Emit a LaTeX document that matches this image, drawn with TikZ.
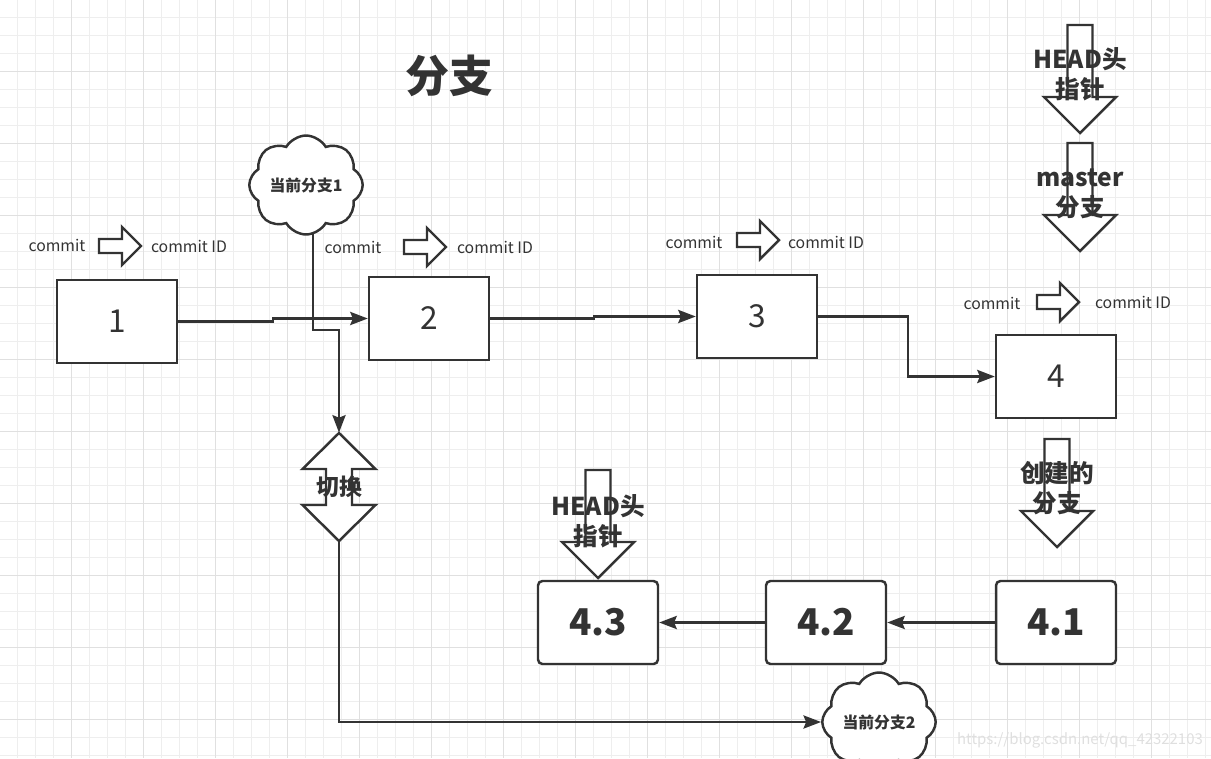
\documentclass[tikz,border=0pt]{standalone}
\usepackage{fontspec}
\setmainfont{Noto Sans CJK SC}
\usepackage{tikz}
\usetikzlibrary{positioning,shapes.symbols,arrows.meta}

\definecolor{inkgray}{HTML}{333333}
\definecolor{gridminor}{HTML}{EEEEEE}
\definecolor{gridmajor}{HTML}{E0E0E0}

\tikzset{
  commitbox/.style={draw=inkgray, line width=1.4pt, fill=white, minimum width=2.4cm, minimum height=1.66cm, inner sep=0pt, text=inkgray, font=\fontsize{18}{20}\selectfont},
  subbox/.style={commitbox, rounded corners=2.5pt, font=\bfseries\fontsize{21}{24}\selectfont},
  conn/.style={draw=inkgray, line width=1.3pt, -{Stealth[length=10pt,width=7.5pt,inset=1.5pt]}},
  blockline/.style={draw=inkgray, line width=1.4pt, fill=white, line join=miter},
  bubble/.style={cloud, cloud puffs=8, cloud puff arc=120, aspect=1.25, draw=inkgray, line width=1.4pt, fill=white, minimum width=2.15cm, minimum height=1.72cm, inner sep=0pt, text=inkgray, font=\bfseries\fontsize{9}{11}\selectfont},
  smalltxt/.style={text=inkgray, inner sep=0pt, font=\fontsize{9}{11}\selectfont},
  pointer/.style={text=inkgray, inner sep=0pt, align=center, font=\bfseries\fontsize{14}{17}\selectfont},
  rightblk/.pic={\draw[blockline] (0,-7) -- (23,-7) -- (23,-19) -- (42,0) -- (23,19) -- (23,7) -- (0,7) -- cycle;},
  downblk/.pic={\draw[blockline] (-12.5,0) -- (12.5,0) -- (12.5,72) -- (36,72) -- (0,108) -- (-36,72) -- (-12.5,72) -- cycle;},
  updownblk/.pic={\draw[blockline] (0,-54) -- (36.5,-18) -- (13,-18) -- (13,18) -- (36.5,18) -- (0,54) -- (-36.5,18) -- (-13,18) -- (-13,-18) -- (-36.5,-18) -- cycle;},
}

\begin{document}
\begin{tikzpicture}[x=0.02cm, y=-0.02cm]
  \useasboundingbox (0,0) rectangle (1211,758);
  % grid paper
  \foreach \gx in {-1,17,...,1213} \draw[gridminor, line width=0.5pt] (\gx,0) -- (\gx,758);
  \foreach \gy in {-1,17,...,760} \draw[gridminor, line width=0.5pt] (0,\gy) -- (1211,\gy);
  \foreach \gx in {-1,71,...,1213} \draw[gridmajor, line width=0.5pt] (\gx,0) -- (\gx,758);
  \foreach \gy in {-1,71,...,760} \draw[gridmajor, line width=0.5pt] (0,\gy) -- (1211,\gy);

  \node[text=inkgray, font=\bfseries\fontsize{25}{28}\selectfont] (title) at (449,76) {分支};

  % commits on master
  \node[commitbox] (b1) at (117,321.5) {1};
  \node[commitbox] (b2) at (429,318.5) {2};
  \node[commitbox] (b3) at (757,316.5) {3};
  \node[commitbox] (b4) at (1056,376.5) {4};
  \draw[conn] (b1.east) -- ++(95,0) |- (b2.west);
  \draw[conn] (b2.east) -- ++(104,0) |- (b3.west);
  \draw[conn] (b3.east) -- ++(90,0) |- (b4.west);

  % commits on the new branch
  \node[subbox] (b41) at (1056,622.5) {4.1};
  \node[subbox] (b42) at (826,622.5) {4.2};
  \node[subbox] (b43) at (598,622.5) {4.3};
  \draw[conn] (b41.west) -- (b42.east);
  \draw[conn] (b42.west) -- (b43.east);

  % switching between branches
  \pic at (339,487) {updownblk};
  \node[pointer, font=\bfseries\fontsize{13}{15}\selectfont, minimum width=1.46cm, minimum height=2.16cm] (sw) at (339,487) {切换};
  \coordinate (c1tail) at (313,222);
  \draw[conn] (c1tail) -- (313,330) -| (sw.north);
  \node[bubble] (c1) at (306,185) {当前分支1};
  \node[bubble] (c2) at (879,722) {当前分支2};
  \draw[conn] (sw.south) |- (c2.west);

  % commit -> commit ID
  \node[smalltxt] (cm1) at (57,245) {commit};
  \pic at (99,246) {rightblk};
  \node[smalltxt] (id1) at (189,246) {commit ID};
  \node[smalltxt] (cm2) at (353,247) {commit};
  \pic at (404,247) {rightblk};
  \node[smalltxt] (id2) at (495,247) {commit ID};
  \node[smalltxt] (cm3) at (694,242) {commit};
  \pic at (737,240) {rightblk};
  \node[smalltxt] (id3) at (826,242) {commit ID};
  \node[smalltxt] (cm4) at (992,303) {commit};
  \pic at (1037,302) {rightblk};
  \node[smalltxt] (id4) at (1133,302) {commit ID};

  % pointers
  \pic at (1080,25) {downblk};
  \node[pointer] (head1) at (1080,74) {HEAD头\\指针};
  \pic at (1080,143) {downblk};
  \node[pointer] (master) at (1080,194) {master\\分支};
  \pic at (598,470) {downblk};
  \node[pointer] (head2) at (598,521) {HEAD头\\指针};
  \pic at (1057,439) {downblk};
  \node[pointer] (newbr) at (1057,488) {创建的\\分支};

  \node[text=gray!25, font=\fontsize{8.5}{10}\selectfont] (mark) at (1080,740) {https://blog.csdn.net/qq\_42322103};
\end{tikzpicture}
\end{document}
